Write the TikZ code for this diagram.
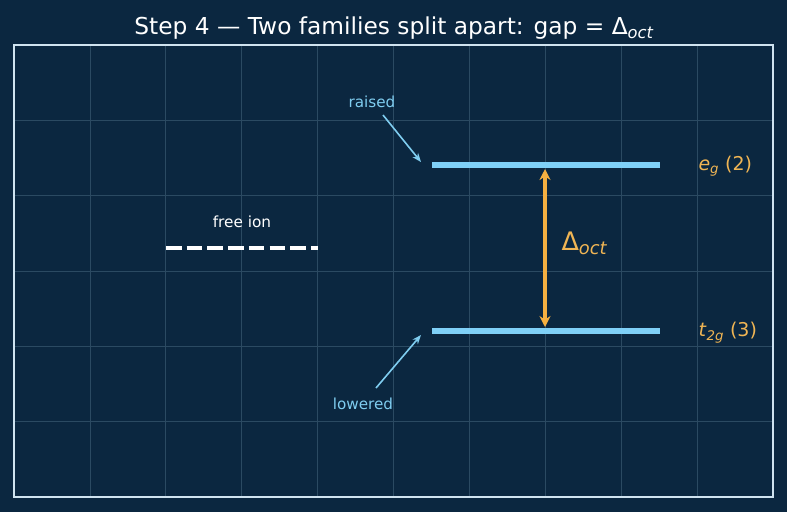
\documentclass[tikz,border=0pt]{standalone}
\usepackage{fontspec}
\setmainfont{DejaVu Sans}
\usetikzlibrary{arrows.meta}
\definecolor{bgc}{HTML}{0B2740}
\definecolor{framec}{HTML}{CFE3F0}
\definecolor{gridc}{HTML}{2B4A62}
\definecolor{levc}{HTML}{7FD0F7}
\definecolor{orc}{HTML}{F5B041}
\definecolor{lblc}{HTML}{7FCDF0}
\definecolor{orl}{HTML}{F0B554}
\tikzset{
  level/.style={levc, line width=5.5pt},
  note/.style={lblc, font=\fontsize{15.2}{17}\selectfont},
  notearrow/.style={lblc, line width=1.6pt, -{Stealth[length=9pt,width=7pt]}},
  famlabel/.style={orl, anchor=west, font=\fontsize{19}{21}\selectfont}
}
\begin{document}
\begin{tikzpicture}[x=1pt,y=-1pt]
\fill[bgc] (0,0) rectangle (787,512);
\useasboundingbox (0,0) rectangle (787,512);
% grid
\foreach \i in {1,...,9} {\draw[gridc, line width=0.7pt] ({14+75.9*\i},45) -- ({14+75.9*\i},497);}
\foreach \j in {1,...,5} {\draw[gridc, line width=0.7pt] (14,{45+75.33*\j}) -- (773,{45+75.33*\j});}
\draw[framec, line width=1.8pt] (14,45) rectangle (773,497);
% title
\node[white, font=\fontsize{23.3}{26}\selectfont] (title) at (394,28) {Step 4 — Two families split apart: gap = Δ\textsubscript{\itshape oct}};
% free ion
\coordinate (fa) at (166,248);
\coordinate (fb) at (318,248);
\draw[white, line width=3.2pt, dash pattern=on 15.5pt off 5.2pt] (fa) -- (fb);
\node[white, font=\fontsize{15.3}{17}\selectfont] (free) at (242,222) {free ion};
% levels
\coordinate (ega) at (432,165);
\coordinate (egb) at (660,165);
\coordinate (ta) at (432,331);
\coordinate (tb) at (660,331);
\draw[level] (ega) -- (egb);
\draw[level] (ta) -- (tb);
% gap arrow
\coordinate (gtop) at (545,169);
\coordinate (gbot) at (545,327);
\draw[orc, line width=3.2pt, {Stealth[length=11pt,width=11pt]}-{Stealth[length=11pt,width=11pt]}] (gtop) -- (gbot);
\node[orl, anchor=west, font=\fontsize{25.5}{28}\selectfont] (delta) at (558,243) {Δ\textsubscript{\itshape oct}};
% family labels
\node[famlabel] (eg) at (695,166) {\textit{e}\textsubscript{\itshape g} (2)};
\node[famlabel] (t2g) at (695,333) {\textit{t}\textsubscript{\itshape 2g} (3)};
% raised / lowered
\node[note] (raised) at (372,102) {raised};
\coordinate (rt) at (421,162);
\draw[notearrow] (383,115) -- (rt);
\node[note] (lowered) at (363,404) {lowered};
\coordinate (lt) at (421,335);
\draw[notearrow] (376,388) -- (lt);
\end{tikzpicture}
\end{document}
